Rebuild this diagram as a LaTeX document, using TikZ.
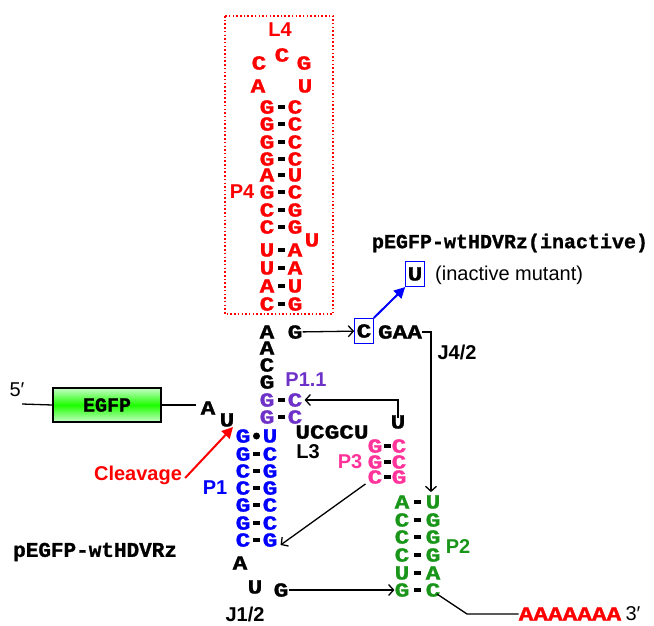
\documentclass[tikz,border=0pt]{standalone}
\usepackage{fontspec}
\setmainfont{Liberation Sans}
\setsansfont{Liberation Sans}
\setmonofont{Liberation Mono}
\newfontfamily\ntfont[BoldFeatures={FakeBold=1.2}]{Liberation Mono}
\usetikzlibrary{arrows.meta}

\definecolor{ntred}{RGB}{255,0,0}
\definecolor{ntblue}{RGB}{0,0,255}
\definecolor{ntpurple}{RGB}{110,50,200}
\definecolor{ntpink}{RGB}{255,51,153}
\definecolor{ntgreen}{RGB}{25,150,25}

\begin{document}
\begin{tikzpicture}[x=1pt, y=-1pt, >={Straight Barb[length=5pt,width=11pt]},
  nt/.style={inner sep=0pt, xscale=1.22, transform shape, font=\fontsize{20}{20}\selectfont\ntfont\bfseries},
  mt/.style={inner sep=0pt, font=\fontsize{20}{20}\selectfont\ntfont\bfseries},
  lb/.style={inner sep=0pt, font=\fontsize{20}{20}\selectfont\sffamily\bfseries},
  tl/.style={inner sep=0pt, font=\fontsize{20}{20}\selectfont\sffamily},
  bp/.style={fill=black, inner sep=0pt, minimum width=7pt, minimum height=3.5pt},
  mutbox/.style={draw=ntblue, line width=1.1pt, minimum width=15pt, minimum height=25pt},
  arr/.style={->, line width=1.3pt}]
\useasboundingbox (0,0) rectangle (654,625);

% P4 hairpin with L4 loop
\draw[ntred, line width=2pt, dash pattern=on 1.5pt off 2.2pt] (225,16) rectangle (333,314);
\node[lb, ntred] (l4) at (280,30) {L4};
\node[nt, ntred] (l4a) at (259,63) {C};
\node[nt, ntred] (l4b) at (282,55) {C};
\node[nt, ntred] (l4c) at (304,63) {G};
\node[nt, ntred] (l4d) at (258,86) {A};
\node[nt, ntred] (l4e) at (305,86) {U};
\foreach \l/\r/\y [count=\i] in {G/C/107, G/C/124, G/C/142, G/C/159, A/U/175, G/C/192,
    C/G/210, C/G/227, U/A/250, U/A/268, A/U/286, C/G/304}{
  \node[nt, ntred] (p4l\i) at (267,\y) {\l};
  \node[nt, ntred] (p4r\i) at (295,\y) {\r};
  \path (p4l\i) -- (p4r\i) node[midway, bp] {};
}
\node[nt, ntred] (p4u) at (312,240) {U};
\node[lb, ntred] (p4) at (242,192) {P4};

% J4/2 strand and the mutated C
\node[nt] (j1) at (267,332) {A};
\node[nt] (j2) at (295,332) {G};
\node[nt, mutbox] (cbox) at (364,331) {C};
\node[nt] (gaa) at (400,332) {GAA};
\node[nt, mutbox] (ubox) at (415,274) {U};
\node[tl, anchor=west] (mut) at (435,275) {(inactive mutant)};
\node[mt] (inact) at (510,243) {pEGFP-wtHDVRz(inactive)};
\node[lb] (j42) at (457,352) {J4/2};
\draw[arr] (j2) -- (cbox);
\draw[ntblue, line width=2pt, -{Triangle[length=11pt,width=11pt]}] (cbox.north east) -- (ubox.south west);

\node[nt] (j3) at (267,348) {A};
\node[nt] (j4) at (267,365) {C};
\node[nt] (j5) at (267,382) {G};

% P1.1
\foreach \l/\r/\y [count=\i] in {G/C/400, G/C/417}{
  \node[nt, ntpurple] (p11l\i) at (267,\y) {\l};
  \node[nt, ntpurple] (p11r\i) at (295,\y) {\r};
  \path (p11l\i) -- (p11r\i) node[midway, bp] {};
}
\node[lb, ntpurple] (p11) at (306,380) {P1.1};

% P1
\foreach \l/\r/\y [count=\i] in {G/U/436, G/C/454, C/G/471, C/G/488, G/C/505, G/C/523, C/G/540}{
  \node[nt, ntblue] (p1l\i) at (243,\y) {\l};
  \node[nt, ntblue] (p1r\i) at (270,\y) {\r};
  \ifnum\i=1
    \fill (256.5,\y) circle (3.5pt);
  \else
    \path (p1l\i) -- (p1r\i) node[midway, bp] {};
  \fi
}
\node[lb, ntblue] (p1) at (215,488) {P1};

% 5' end with EGFP
\node[tl] (five) at (17,390) {5′};
\coordinate (fstart) at (22,404);
\node[draw, line width=1.3pt, minimum width=108pt, minimum height=34pt, inner sep=0pt,
  top color=green!22, bottom color=green!22, middle color=green!85!lime] (egfp) at (107,405) {};
\node[mt] at (egfp) {EGFP};
\node[nt] (ca) at (208,408) {A};
\node[nt] (cu) at (227,420) {U};
\draw[line width=1.3pt] (fstart) -- (egfp.west);
\draw[line width=1.3pt] (egfp.east) -- ([xshift=-4pt]ca.west |- egfp.east);

\node[lb, ntred] (clv) at (138,475) {Cleavage};
\coordinate (cut) at (233,427);
\draw[ntred, line width=2pt, -{Triangle[length=11pt,width=11pt]}] ([xshift=3pt,yshift=-3pt]clv.east) -- (cut);

\node[mt, anchor=west, font=\fontsize{21}{21}\selectfont\ntfont\bfseries] (tag) at (13,552) {pEGFP-wtHDVRz};

% L3 and P3
\node[nt] (l3s) at (332,432) {UCGCU};
\node[lb] (l3) at (308,452) {L3};
\node[nt] (u3) at (398,422) {U};
\foreach \l/\r/\y [count=\i] in {G/C/446, G/C/462, C/G/477}{
  \node[nt, ntpink] (p3l\i) at (375,\y) {\l};
  \node[nt, ntpink] (p3r\i) at (399,\y) {\r};
  \path (p3l\i) -- (p3r\i) node[midway, bp] {};
}
\node[lb, ntpink] (p3) at (350,462) {P3};
\draw[arr] ([yshift=-3pt]u3.north) |- ([xshift=2pt]p11r1.east);
\draw[arr] ([xshift=-2pt]p3l3.south west) -- ([xshift=3pt,yshift=-5pt]p1r7.east);

% J1/2
\node[nt] (ja) at (240,563) {A};
\node[nt] (ju) at (255,587) {U};
\node[nt] (jg) at (281,590) {G};
\node[lb] (j12) at (245,614) {J1/2};

% P2 and 3' end
\foreach \l/\r/\y [count=\i] in {A/U/502, C/G/520, C/G/537, C/G/555, U/A/573, G/C/590}{
  \node[nt, ntgreen] (p2l\i) at (402,\y) {\l};
  \node[nt, ntgreen] (p2r\i) at (433,\y) {\r};
  \path (p2l\i) -- (p2r\i) node[midway, bp] {};
}
\node[lb, ntgreen] (p2) at (458,547) {P2};
\draw[arr] (gaa.east) -| ([xshift=-2pt,yshift=3pt]p2r1.north);
\draw[arr] (jg) -- (p2l6);
\node[nt, ntred] (polya) at (570,614) {AAAAAAA};
\node[tl] (three) at (633,614) {3′};
\coordinate (bend) at (467,614);
\draw[line width=1.3pt] ([xshift=4pt,yshift=3pt]p2r6.south) -- (bend) -- (polya.west);
\end{tikzpicture}
\end{document}
